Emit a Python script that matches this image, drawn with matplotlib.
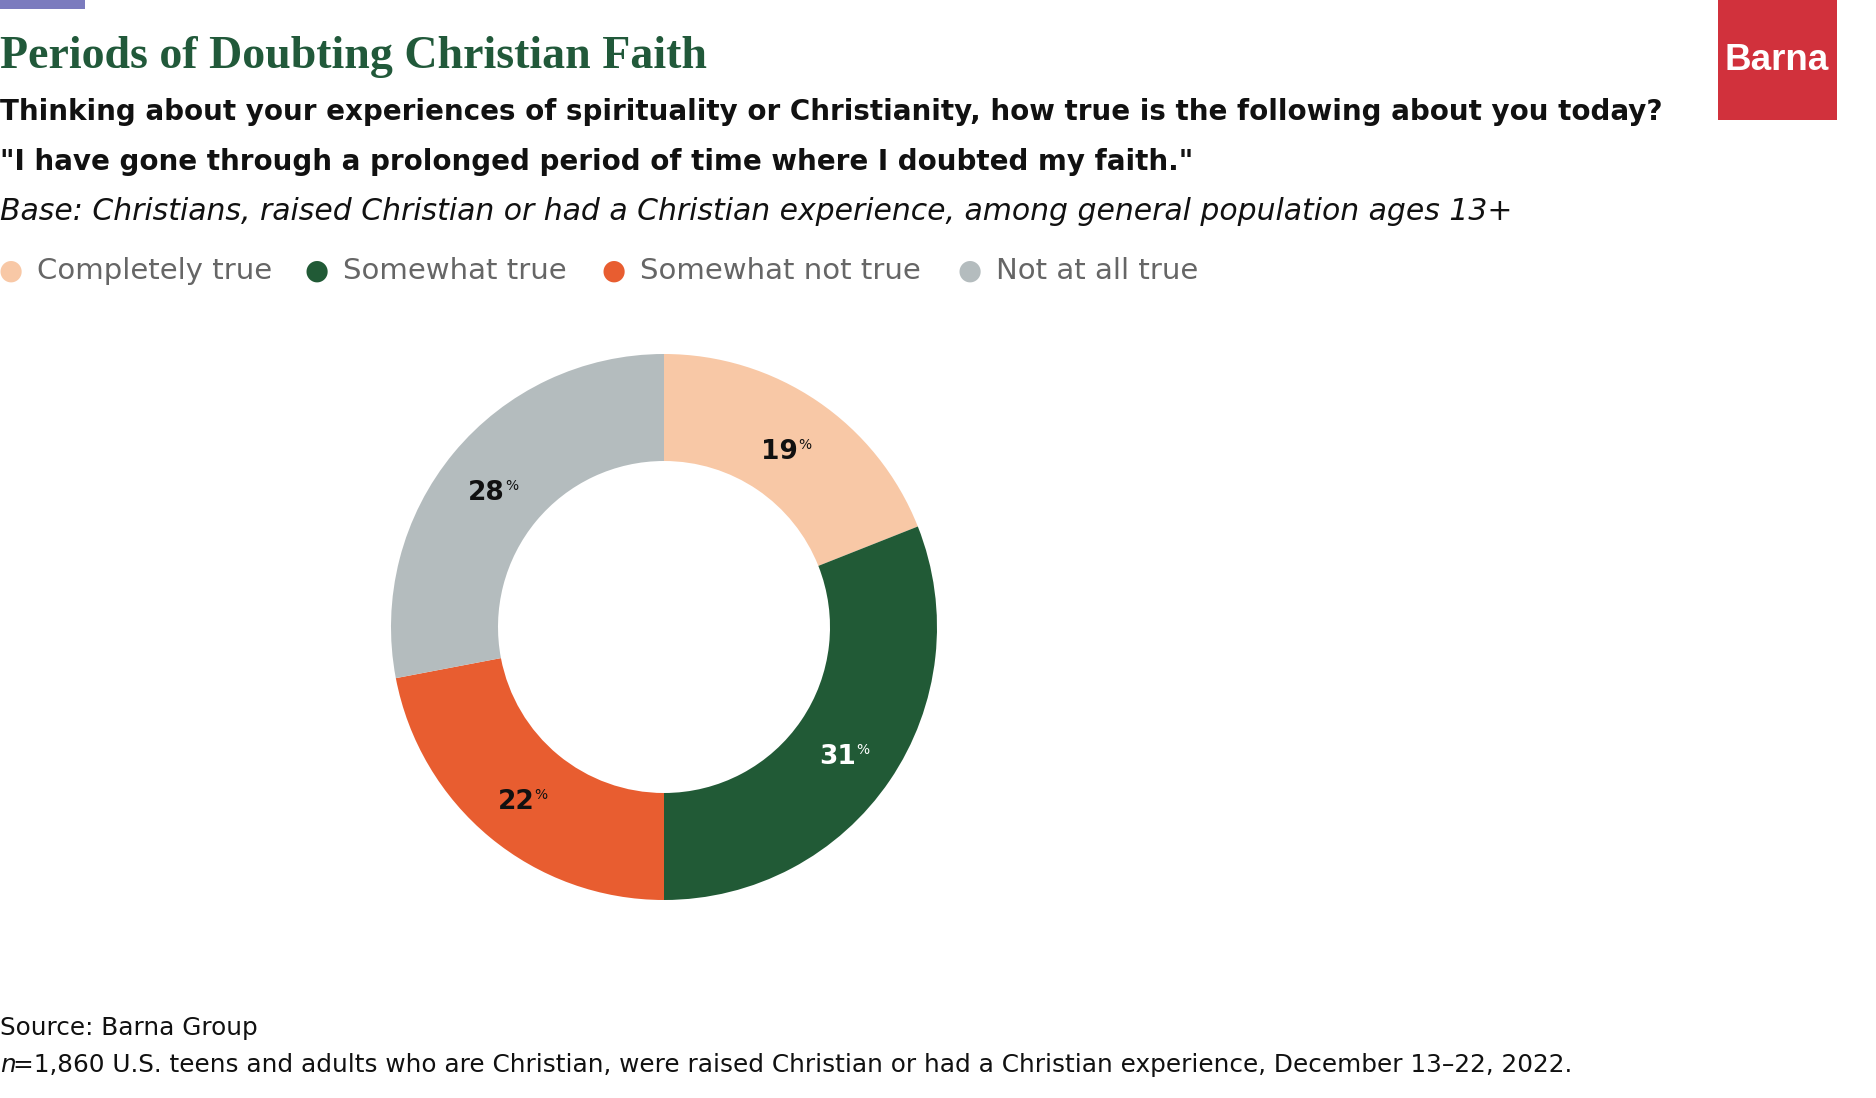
import matplotlib
matplotlib.use("Agg")
import matplotlib.pyplot as plt
from matplotlib.patches import Rectangle
import numpy as np

categories = ["Completely true", "Somewhat true", "Somewhat not true", "Not at all true"]
values = [19, 31, 22, 28]
colors = ["#F8C8A6", "#215A36", "#E85D30", "#B4BCBE"]
label_colors = ["#111111", "#FFFFFF", "#111111", "#111111"]

title = "Periods of Doubting Christian Faith"
subtitle1 = "Thinking about your experiences of spirituality or Christianity, how true is the following about you today?"
subtitle2 = "\"I have gone through a prolonged period of time where I doubted my faith.\""
base = "Base: Christians, raised Christian or had a Christian experience, among general population ages 13+"
source = "Source: Barna Group"
note = "=1,860 U.S. teens and adults who are Christian, were raised Christian or had a Christian experience, December 13\u201322, 2022."

W, H = 1876, 1098
fig = plt.figure(figsize=(W / 100, H / 100), dpi=100)
fig.patch.set_facecolor("white")

def fx(x):
    return x / W

def fy(y):
    return 1 - y / H

# top-left accent bar
fig.patches.append(Rectangle((0, fy(9)), fx(85), 9 / H, transform=fig.transFigure,
                             facecolor="#7B7BBE", edgecolor="none"))
# logo
fig.patches.append(Rectangle((fx(1718), fy(120)), fx(119), 120 / H, transform=fig.transFigure,
                             facecolor="#D1313C", edgecolor="none"))
fig.text(fx(1777), fy(60), "Barna", color="white", fontsize=26.5, fontweight="bold",
         family="Liberation Sans", ha="center", va="center")

# title and subtitles
fig.text(fx(0), fy(57), title, color="#21593A", fontsize=33, fontweight="bold",
         family="Liberation Serif", ha="left", va="center")
fig.text(fx(0), fy(112), subtitle1, color="#111111", fontsize=20, fontweight="bold",
         family="DejaVu Sans", ha="left", va="center")
fig.text(fx(0), fy(162), subtitle2, color="#111111", fontsize=20, fontweight="bold",
         family="DejaVu Sans", ha="left", va="center")
fig.text(fx(0), fy(212), base, color="#111111", fontsize=21.5, style="italic",
         family="DejaVu Sans", ha="left", va="center")

# legend
leg_x = [11, 317, 614, 970]
for x, c, lab in zip(leg_x, colors, categories):
    fig.text(fx(x), fy(271), "\u25CF", color=c, fontsize=20, ha="center", va="center",
             family="DejaVu Sans")
    fig.text(fx(x + 26), fy(271), lab, color="#666666", fontsize=21, ha="left", va="center",
             family="DejaVu Sans")

# donut
cx, cy, R, r = 664, 627, 273, 166
half = 300
ax = fig.add_axes([fx(cx - half), (H - cy - half) / H, 2 * half / W, 2 * half / H])
wedges, _ = ax.pie(values, colors=colors, startangle=90, counterclock=False, radius=1.0,
                   wedgeprops=dict(width=(R - r) / R, edgecolor="none"))
lim = half / R
ax.set_xlim(-lim, lim)
ax.set_ylim(-lim, lim)
ax.set_aspect("equal")
ax.axis("off")

mid_r = (1 + r / R) / 2
start = 90.0
total = sum(values)
for v, lc in zip(values, label_colors):
    ang = start - v / total * 360 / 2
    start -= v / total * 360
    x = mid_r * np.cos(np.radians(ang))
    y = mid_r * np.sin(np.radians(ang))
    ax.annotate(f"{v}", xy=(x, y), xytext=(-6, -4.5), textcoords="offset points", color=lc,
                fontsize=19, fontweight="bold", ha="center", va="center", family="DejaVu Sans")
    ax.annotate("%", xy=(x, y), xytext=(7.5, 0.5), textcoords="offset points", color=lc,
                fontsize=10, ha="left", va="center", family="DejaVu Sans")

# footer
fig.text(fx(0), fy(1028), source, color="#111111", fontsize=17.8, ha="left", va="center",
         family="DejaVu Sans")
fig.text(fx(0), fy(1065), "n", color="#111111", fontsize=17.8, style="italic", ha="left",
         va="center", family="DejaVu Sans")
fig.text(fx(13), fy(1065), note, color="#111111", fontsize=17.8, ha="left", va="center",
         family="DejaVu Sans")

fig.savefig("out.png", dpi=100, facecolor="white")
